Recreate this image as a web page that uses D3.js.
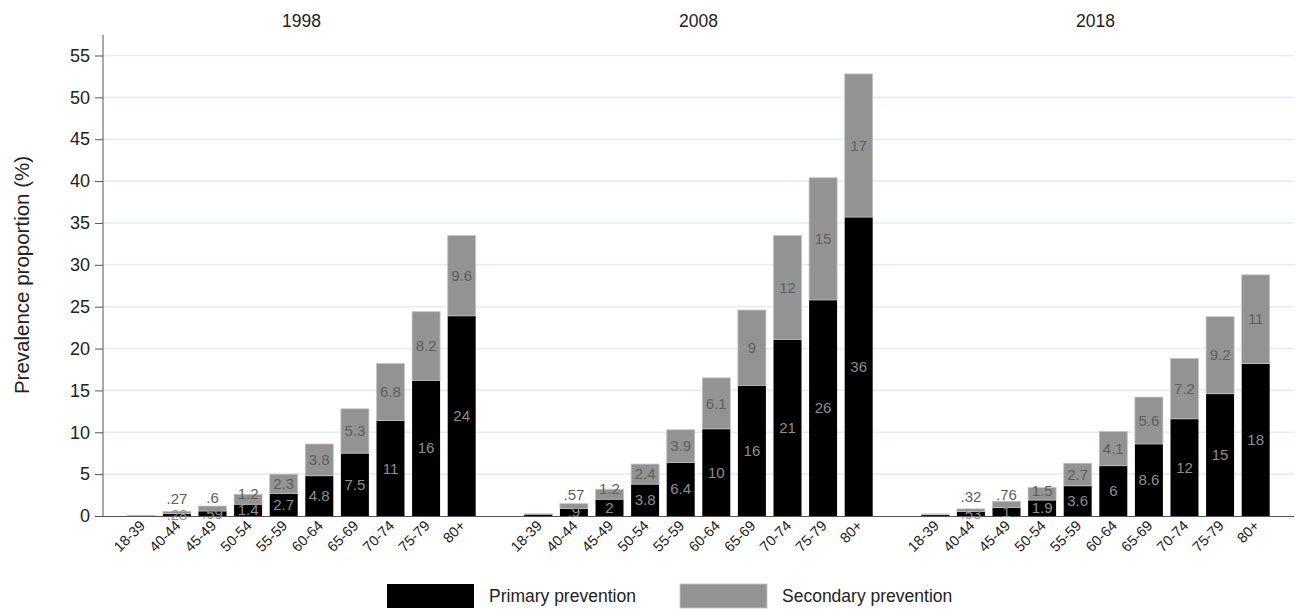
<!DOCTYPE html>
<html>
<head>
<meta charset="utf-8">
<script src="https://cdn.jsdelivr.net/npm/d3@7"></script>
<style>
  body { margin: 0; background: #fff; }
  svg { font-family: Arial, "Liberation Sans", sans-serif; display: block; }
</style>
</head>
<body>
<svg id="chart" width="1300" height="609"></svg>
<script>
// Age groups on each panel
const ageGroups = ['18-39', '40-44', '45-49', '50-54', '55-59', '60-64', '65-69', '70-74', '75-79', '80+'];
const years = ['1998', '2008', '2018'];

// Prevalence proportion (%)
const primary1998 = [0.05, 0.28, 0.59, 1.4, 2.7, 4.8, 7.5, 11.4, 16.2, 23.9];
const secondary1998 = [0.03, 0.27, 0.6, 1.2, 2.3, 3.8, 5.3, 6.8, 8.2, 9.6];
const primary2008 = [0.2, 0.9, 2.0, 3.8, 6.4, 10.4, 15.6, 21.1, 25.8, 35.7];
const secondary2008 = [0.06, 0.57, 1.2, 2.4, 3.9, 6.1, 9.0, 12.4, 14.6, 17.1];
const primary2018 = [0.15, 0.53, 1.0, 1.9, 3.6, 6.0, 8.6, 11.6, 14.6, 18.2];
const secondary2018 = [0.1, 0.32, 0.76, 1.5, 2.7, 4.1, 5.6, 7.2, 9.2, 10.6];

const yTicks = [0, 5, 10, 15, 20, 25, 30, 35, 40, 45, 50, 55];

const primaryByYear = [primary1998, primary2008, primary2018];
const secondaryByYear = [secondary1998, secondary2008, secondary2018];

const svg = d3.select('#chart');

const plotLeft = 103;
const panelWidth = 397;
const plotTop = 35;
const plotBottom = 516;

const y = d3.scaleLinear()
    .domain([0, 55])
    .range([plotBottom, plotBottom - 55 * 8.373]);

// Stata style %9.2g labels: two significant digits, no leading zero
const fmt = d3.format('.2~r');
const labelText = v => fmt(v).replace(/^0\./, '.');
// the youngest group carries no labels in the original
const minLabelledTotal = 0.4;

// Grid lines across the full width
svg.append('g')
    .selectAll('line')
    .data(yTicks.filter(d => d > 0))
    .enter().append('line')
    .attr('x1', plotLeft)
    .attr('x2', plotLeft + panelWidth * 3)
    .attr('y1', d => y(d))
    .attr('y2', d => y(d))
    .attr('stroke', '#e4eef0')
    .attr('stroke-width', 1.6);

// Y axis
const yAxis = svg.append('g')
    .attr('transform', `translate(${plotLeft},0)`)
    .call(d3.axisLeft(y).tickValues(yTicks).tickSize(8).tickPadding(5));
yAxis.select('.domain')
    .attr('d', `M0,${plotTop}V${plotBottom}`)
    .attr('stroke', '#555');
yAxis.selectAll('.tick line').attr('stroke', '#555');
yAxis.selectAll('.tick text')
    .attr('font-size', '18px')
    .attr('fill', '#222')
    .attr('font-family', 'Arial, "Liberation Sans", sans-serif');

svg.append('text')
    .attr('transform', `translate(29,275) rotate(-90)`)
    .attr('text-anchor', 'middle')
    .attr('font-size', '20.5px')
    .attr('fill', '#222')
    .text('Prevalence proportion (%)');

// Bottom baseline
svg.append('line')
    .attr('x1', plotLeft)
    .attr('x2', plotLeft + panelWidth * 3)
    .attr('y1', plotBottom + 0.5)
    .attr('y2', plotBottom + 0.5)
    .attr('stroke', '#555')
    .attr('stroke-width', 1);

years.forEach((year, i) => {
    const x0 = plotLeft + panelWidth * i;
    const x = d3.scaleBand()
        .domain(ageGroups)
        .range([x0, x0 + panelWidth])
        .paddingInner(0.2135)
        .paddingOuter(0.683);

    const rows = ageGroups.map((g, k) => ({
        group: g,
        primary: primaryByYear[i][k],
        secondary: secondaryByYear[i][k]
    }));
    const labelled = rows.filter(d => d.primary + d.secondary >= minLabelledTotal);

    const panel = svg.append('g').attr('class', 'panel');

    // Panel title
    panel.append('text')
        .attr('x', x0 + panelWidth / 2)
        .attr('y', 27)
        .attr('text-anchor', 'middle')
        .attr('font-size', '17.5px')
        .attr('fill', '#222')
        .text(year);

    // Primary (bottom) segments
    panel.append('g')
        .selectAll('rect')
        .data(rows)
        .enter().append('rect')
        .attr('x', d => x(d.group))
        .attr('width', x.bandwidth())
        .attr('y', d => y(d.primary))
        .attr('height', d => y(0) - y(d.primary))
        .attr('fill', '#000');

    // Secondary (top) segments
    panel.append('g')
        .selectAll('rect')
        .data(rows)
        .enter().append('rect')
        .attr('x', d => x(d.group))
        .attr('width', x.bandwidth())
        .attr('y', d => y(d.primary + d.secondary))
        .attr('height', d => y(d.primary) - y(d.primary + d.secondary))
        .attr('fill', '#939393')
        .attr('stroke', '#c4c4c4')
        .attr('stroke-width', 0.8);

    // Value labels
    panel.append('g')
        .selectAll('text')
        .data(labelled)
        .enter().append('text')
        .attr('x', d => x(d.group) + x.bandwidth() / 2)
        .attr('y', d => (y(0) + y(d.primary)) / 2)
        .attr('dy', '0.35em')
        .attr('text-anchor', 'middle')
        .attr('font-size', '15px')
        .attr('fill', '#8e8e8e')
        .text(d => labelText(d.primary));

    panel.append('g')
        .selectAll('text')
        .data(labelled)
        .enter().append('text')
        .attr('x', d => x(d.group) + x.bandwidth() / 2)
        .attr('y', d => {
            const top = y(d.primary + d.secondary);
            const bottom = y(d.primary);
            const h = bottom - top;
            return (top + bottom) / 2 - Math.max(0, 16 - h);
        })
        .attr('dy', '0.35em')
        .attr('text-anchor', 'middle')
        .attr('font-size', '15px')
        .attr('fill', '#5e5e5e')
        .text(d => labelText(d.secondary));

    // Rotated age group labels
    panel.append('g')
        .selectAll('text')
        .data(ageGroups)
        .enter().append('text')
        .attr('transform', d => `translate(${x(d) + x.bandwidth() / 2 + 1},${plotBottom + 7}) rotate(-45)`)
        .attr('text-anchor', 'end')
        .attr('dy', '0.35em')
        .attr('font-size', '14.5px')
        .attr('fill', '#222')
        .text(d => d);
});

// Legend
const legendItems = [
    { label: 'Primary prevention', color: '#000', x: 387 },
    { label: 'Secondary prevention', color: '#939393', x: 680 }
];
const legend = svg.append('g');
legend.selectAll('rect')
    .data(legendItems)
    .enter().append('rect')
    .attr('x', d => d.x)
    .attr('y', 584)
    .attr('width', 87)
    .attr('height', 24)
    .attr('fill', d => d.color)
    .attr('stroke', d => d.color === '#000' ? 'none' : '#c4c4c4')
    .attr('stroke-width', 0.8);
legend.selectAll('text')
    .data(legendItems)
    .enter().append('text')
    .attr('x', d => d.x + 102)
    .attr('y', 596)
    .attr('dy', '0.35em')
    .attr('font-size', '17.5px')
    .attr('fill', '#222')
    .text(d => d.label);
</script>
</body>
</html>
